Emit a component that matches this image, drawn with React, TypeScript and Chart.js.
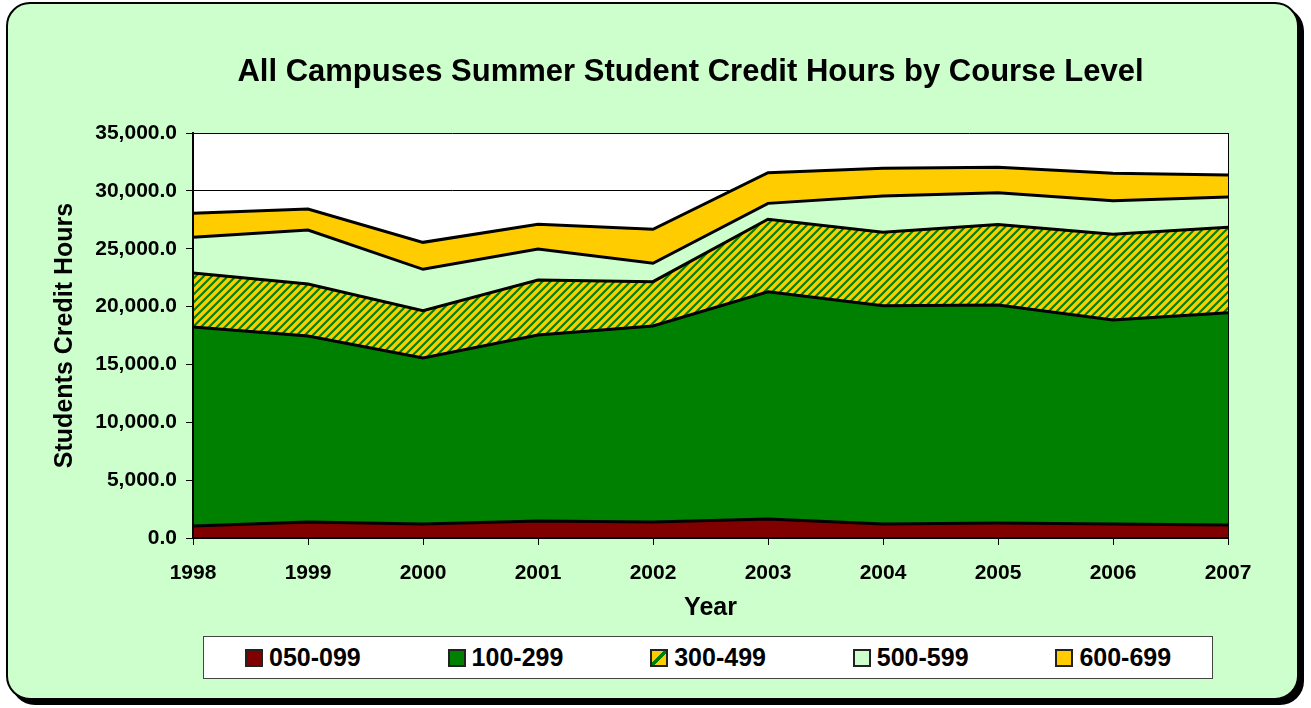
import React, { useEffect, useRef } from 'react';
import { Chart, registerables } from 'chart.js';

Chart.register(...registerables);

const years = ['1998', '1999', '2000', '2001', '2002', '2003', '2004', '2005', '2006', '2007'];
const level050 = [1040, 1380, 1200, 1470, 1380, 1640, 1200, 1300, 1200, 1120];
const level100 = [17190, 16070, 14360, 16070, 16940, 19640, 18870, 18835, 17640, 18350];
const level300 = [4670, 4500, 4080, 4760, 3830, 6270, 6360, 6965, 7410, 7390];
const level500 = [3090, 4670, 3580, 2680, 1590, 1370, 3130, 2740, 2900, 2610];
const level600 = [2070, 1810, 2330, 2130, 2940, 2650, 2390, 2190, 2370, 1900];
const seriesNames = ['050-099', '100-299', '300-499', '500-599', '600-699'];
const yMin = 0;
const yMax = 35000;
const yStep = 5000;
const titleText = 'All Campuses Summer Student Credit Hours by Course Level';

const FONT = "'Liberation Sans', Arial, Helvetica, sans-serif";
const MAROON = '#800000';
const GREEN = '#008000';
const GOLD = '#FFCC00';
const PALE = '#CCFFCC';

function makeHatch(): CanvasPattern | string {
  const c = document.createElement('canvas');
  c.width = 8;
  c.height = 8;
  const g = c.getContext('2d');
  if (!g) return GOLD;
  g.fillStyle = GOLD;
  g.fillRect(0, 0, 8, 8);
  g.strokeStyle = GREEN;
  g.lineWidth = 2.2;
  g.beginPath();
  g.moveTo(-2, 2);
  g.lineTo(2, -2);
  g.moveTo(0, 8);
  g.lineTo(8, 0);
  g.moveTo(6, 10);
  g.lineTo(10, 6);
  g.stroke();
  return g.createPattern(c, 'repeat') || GOLD;
}

const plotFrame = {
  id: 'plotFrame',
  beforeDraw(chart: any) {
    const { ctx, chartArea: a } = chart;
    ctx.save();
    ctx.fillStyle = '#FFFFFF';
    ctx.fillRect(a.left, a.top, a.right - a.left, a.bottom - a.top);
    ctx.restore();
  },
  afterDatasetsDraw(chart: any) {
    const { ctx, chartArea: a } = chart;
    ctx.save();
    ctx.strokeStyle = '#000';
    ctx.lineWidth = 1;
    ctx.beginPath();
    ctx.moveTo(a.right + 0.5, a.top);
    ctx.lineTo(a.right + 0.5, a.bottom);
    ctx.stroke();
    ctx.lineWidth = 2;
    ctx.beginPath();
    ctx.moveTo(a.left, a.top);
    ctx.lineTo(a.left, a.bottom);
    ctx.lineTo(a.right + 1, a.bottom);
    ctx.stroke();
    ctx.restore();
  },
};

export default function App() {
  const canvasRef = useRef<HTMLCanvasElement | null>(null);

  useEffect(() => {
    const canvas = canvasRef.current;
    if (!canvas) return;
    const hatch = makeHatch();
    const fills = [MAROON, GREEN, hatch, PALE, GOLD];
    const values = [level050, level100, level300, level500, level600];
    const chart = new Chart(canvas, {
      type: 'line',
      data: {
        labels: years,
        datasets: seriesNames.map((name, i) => ({
          label: name,
          data: values[i],
          backgroundColor: fills[i] as any,
          borderColor: '#000',
          borderWidth: 3,
          fill: i === 0 ? 'origin' : '-1',
          pointRadius: 0,
          tension: 0,
        })),
      },
      options: {
        animation: false,
        responsive: false,
        maintainAspectRatio: false,
        layout: { padding: { left: 40, right: 83, top: 133, bottom: 85 } },
        plugins: {
          legend: { display: false },
          tooltip: { enabled: false },
          title: { display: false },
        },
        scales: {
          x: {
            grid: {
              display: true,
              drawOnChartArea: false,
              drawTicks: true,
              tickLength: 7,
              color: '#000',
              tickColor: '#000',
            },
            border: { display: true, color: '#000', width: 2 },
            ticks: {
              color: '#000',
              font: { family: FONT, size: 21, weight: 'bold' },
              padding: 16,
              maxRotation: 0,
              autoSkip: false,
            },
            title: {
              display: true,
              text: 'Year',
              color: '#000',
              font: { family: FONT, size: 25, weight: 'bold', lineHeight: 1.2 },
              padding: { top: 0, bottom: 0 },
            },
            afterFit: (s: any) => {
              s.height = 85;
            },
          },
          y: {
            stacked: true,
            min: yMin,
            max: yMax,
            grid: { color: '#000', lineWidth: 1, tickLength: 7, tickColor: '#000' },
            border: { display: true, color: '#000', width: 2 },
            ticks: {
              stepSize: yStep,
              color: '#000',
              padding: 9,
              font: { family: FONT, size: 21, weight: 'bold' },
              callback: (v: any) =>
                Number(v).toLocaleString('en-US', { minimumFractionDigits: 1, maximumFractionDigits: 1 }),
            },
            title: {
              display: true,
              text: 'Students Credit Hours',
              color: '#000',
              font: { family: FONT, size: 25, weight: 'bold', lineHeight: 1.2 },
              padding: { top: 10, bottom: 0 },
            },
            afterFit: (s: any) => {
              s.width = 153;
            },
          },
        },
      },
      plugins: [plotFrame],
    } as any);
    return () => chart.destroy();
  }, []);

  const markerBg = (i: number): React.CSSProperties => {
    if (i === 2) {
      return {
        background: `linear-gradient(to bottom right, ${GOLD} 0%, ${GOLD} 40%, ${GREEN} 40%, ${GREEN} 60%, ${GOLD} 60%, ${GOLD} 100%)`,
      };
    }
    const c = [MAROON, GREEN, GOLD, PALE, GOLD][i];
    return { background: c };
  };

  return (
    <div style={{ position: 'fixed', left: 0, top: 0, width: 1311, height: 708, overflow: 'hidden' }}>
      <div
        style={{
          position: 'absolute',
          left: 6,
          top: 2,
          width: 1293,
          height: 698,
          boxSizing: 'border-box',
          border: '2px solid #000',
          borderRadius: 24,
          background: PALE,
          boxShadow: '5px 5px 0 #000',
        }}
      />
      <div
        style={{
          position: 'absolute',
          left: 35,
          top: 53,
          width: 1311,
          height: 36,
          lineHeight: '36px',
          textAlign: 'center',
          fontFamily: FONT,
          fontWeight: 'bold',
          fontSize: 31,
          color: '#000',
          whiteSpace: 'nowrap',
        }}
      >
        {titleText}
      </div>
      <canvas
        ref={canvasRef}
        width={1311}
        height={708}
        style={{ position: 'absolute', left: 0, top: 0, width: 1311, height: 708 }}
      />
      <div
        style={{
          position: 'absolute',
          left: 203,
          top: 636,
          width: 1010,
          height: 43,
          boxSizing: 'border-box',
          background: '#fff',
          border: '1px solid #444',
        }}
      >
        {seriesNames.map((name, i) => (
          <div key={name}>
            <div
              style={{
                position: 'absolute',
                left: 41 + i * 202.6,
                top: 12,
                width: 18,
                height: 18,
                boxSizing: 'border-box',
                border: '2px solid #222',
                ...markerBg(i),
              }}
            />
            <div
              style={{
                position: 'absolute',
                left: 65 + i * 202.6,
                top: 0,
                height: 41,
                lineHeight: '41px',
                fontFamily: FONT,
                fontWeight: 'bold',
                fontSize: 25,
                color: '#000',
                whiteSpace: 'nowrap',
              }}
            >
              {name}
            </div>
          </div>
        ))}
      </div>
    </div>
  );
}
